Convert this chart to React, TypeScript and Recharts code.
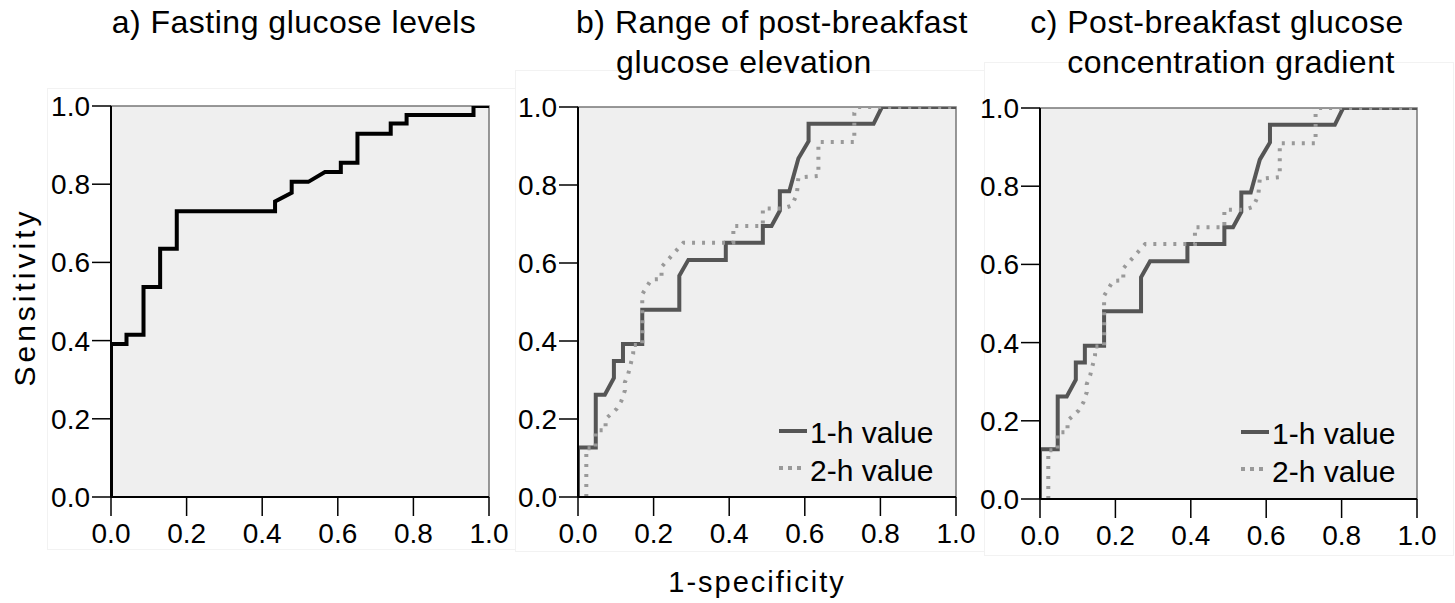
import React from 'react';
import { LineChart, Line, XAxis, YAxis, CartesianGrid, ReferenceArea } from 'recharts';

const FONT = '"Liberation Sans", Arial, sans-serif';

const axisTicks = [0, 0.2, 0.4, 0.6, 0.8, 1.0];

// a) fasting glucose ROC
const fastingFpr = [0, 0, 0.041, 0.041, 0.086, 0.086, 0.13, 0.13, 0.174, 0.174, 0.434, 0.434, 0.478, 0.478, 0.522, 0.566, 0.608, 0.608, 0.652, 0.652, 0.74, 0.74, 0.782, 0.782, 0.959, 0.959, 1];
const fastingTpr = [0, 0.391, 0.391, 0.415, 0.415, 0.537, 0.537, 0.635, 0.635, 0.731, 0.731, 0.756, 0.778, 0.806, 0.806, 0.831, 0.831, 0.855, 0.855, 0.929, 0.929, 0.955, 0.955, 0.977, 0.977, 1, 1];

// b) / c) 1-h value
const oneHourFpr = [0, 0, 0.047, 0.047, 0.071, 0.095, 0.095, 0.119, 0.119, 0.17, 0.17, 0.268, 0.268, 0.292, 0.391, 0.391, 0.489, 0.489, 0.512, 0.534, 0.534, 0.559, 0.583, 0.61, 0.61, 0.782, 0.804, 1];
const oneHourTpr = [0, 0.127, 0.127, 0.262, 0.262, 0.305, 0.349, 0.349, 0.392, 0.392, 0.48, 0.48, 0.567, 0.608, 0.608, 0.652, 0.652, 0.695, 0.695, 0.734, 0.784, 0.784, 0.868, 0.912, 0.957, 0.957, 1, 1];

// b) / c) 2-h value
const twoHourFpr = [0.022, 0.022, 0.047, 0.047, 0.073, 0.073, 0.102, 0.115, 0.124, 0.124, 0.133, 0.146, 0.146, 0.17, 0.17, 0.194, 0.221, 0.221, 0.279, 0.411, 0.411, 0.489, 0.489, 0.543, 0.565, 0.579, 0.583, 0.636, 0.636, 0.731, 0.731, 0.74, 1];
const twoHourTpr = [0, 0.125, 0.125, 0.171, 0.171, 0.2, 0.226, 0.247, 0.273, 0.294, 0.316, 0.367, 0.39, 0.39, 0.52, 0.558, 0.559, 0.59, 0.652, 0.652, 0.695, 0.695, 0.74, 0.74, 0.747, 0.776, 0.819, 0.823, 0.91, 0.91, 0.985, 1, 1];

const zip = (xs: number[], ys: number[]) => xs.map((x, i) => ({ x, y: ys[i] }));

type Series = { name: string; points: { x: number; y: number }[]; color: string; dash?: string };

function RocChart({ left, width, plotLeft, plotRight, plotTop, plotBottom, series }: {
  left: number; width: number; plotLeft: number; plotRight: number; plotTop: number; plotBottom: number; series: Series[];
}) {
  const height = 560;
  const xAxisHeight = 50;
  return (
    <div style={{ position: 'absolute', left, top: 0 }}>
      <LineChart
        width={width}
        height={height}
        margin={{ top: plotTop, right: left + width - plotRight, left: 0, bottom: height - plotBottom - xAxisHeight }}
      >
        <CartesianGrid horizontal={false} vertical={false} fill="#efefef" />
        <ReferenceArea x1={0} x2={1} y1={0} y2={1} fill="none" stroke="#777" strokeWidth={1.5} />
        <XAxis
          type="number"
          dataKey="x"
          domain={[0, 1]}
          ticks={axisTicks}
          allowDataOverflow
          height={xAxisHeight}
          tickSize={19}
          tickMargin={7}
          tickFormatter={(v: number) => v.toFixed(1)}
          axisLine={{ stroke: '#000', strokeWidth: 2 }}
          tickLine={{ stroke: '#000', strokeWidth: 1.5 }}
          tick={{ fill: '#000', fontSize: 28, fontFamily: FONT }}
        />
        <YAxis
          type="number"
          dataKey="y"
          domain={[0, 1]}
          ticks={axisTicks}
          allowDataOverflow
          width={plotLeft - left}
          tickSize={19}
          tickMargin={2}
          tickFormatter={(v: number) => v.toFixed(1)}
          axisLine={{ stroke: '#000', strokeWidth: 2 }}
          tickLine={{ stroke: '#000', strokeWidth: 1.5 }}
          tick={{ fill: '#000', fontSize: 28, fontFamily: FONT }}
        />
        {series.map((s) => (
          <Line
            key={s.name}
            data={s.points}
            dataKey="y"
            type="linear"
            stroke={s.color}
            strokeWidth={4}
            strokeDasharray={s.dash}
            strokeLinejoin="miter"
            dot={false}
            activeDot={false}
            isAnimationActive={false}
          />
        ))}
      </LineChart>
    </div>
  );
}

function LegendBox({ x, y }: { x: number; y: number }) {
  return (
    <g fontFamily={FONT} fontSize={30} fill="#000">
      <line x1={x} x2={x + 28} y1={y} y2={y} stroke="#555" strokeWidth={4} />
      <text x={x + 31} y={y + 12}>1-h value</text>
      <line x1={x} x2={x + 24} y1={y + 37} y2={y + 37} stroke="#999" strokeWidth={4} strokeDasharray="4 5" />
      <text x={x + 31} y={y + 50}>2-h value</text>
    </g>
  );
}

export default function App() {
  const fasting: Series[] = [{ name: 'fasting', points: zip(fastingFpr, fastingTpr), color: '#000' }];
  const postBreakfast: Series[] = [
    { name: '1-h value', points: zip(oneHourFpr, oneHourTpr), color: '#555' },
    { name: '2-h value', points: zip(twoHourFpr, twoHourTpr), color: '#999', dash: '3 7' },
  ];
  const card = { position: 'absolute' as const, border: '1px solid #f2f2f2', background: '#fff' };

  return (
    <div style={{ position: 'absolute', left: 0, top: 0, width: 1455, height: 603, background: '#fff', overflow: 'hidden' }}>
      <div style={{ ...card, left: 47, top: 88, width: 470, height: 460 }} />
      <div style={{ ...card, left: 515, top: 70, width: 470, height: 480 }} />
      <div style={{ ...card, left: 984, top: 62, width: 468, height: 492 }} />

      <RocChart left={0} width={520} plotLeft={111} plotRight={489} plotTop={106} plotBottom={497} series={fasting} />
      <RocChart left={500} width={490} plotLeft={578} plotRight={956} plotTop={107} plotBottom={497} series={postBreakfast} />
      <RocChart left={965} width={490} plotLeft={1040} plotRight={1417} plotTop={108} plotBottom={499} series={postBreakfast} />

      <svg width={1455} height={603} style={{ position: 'absolute', left: 0, top: 0, pointerEvents: 'none' }}>
        <g fontFamily={FONT} fontSize={32} fill="#000" textAnchor="middle" letterSpacing={0.5}>
          <text x={294} y={33}>a) Fasting glucose levels</text>
          <text x={772} y={33}>b) Range of post-breakfast</text>
          <text x={744} y={73}>glucose elevation</text>
          <text x={1217} y={33}>c) Post-breakfast glucose</text>
          <text x={1231} y={73}>concentration gradient</text>
        </g>
        <text x={35} y={297} transform="rotate(-90 35 297)" textAnchor="middle" fontFamily={FONT} fontSize={30} letterSpacing={4}>Sensitivity</text>
        <text x={757} y={592} textAnchor="middle" fontFamily={FONT} fontSize={29} letterSpacing={2}>1-specificity</text>
        <LegendBox x={779} y={431} />
        <LegendBox x={1241} y={432} />
      </svg>
    </div>
  );
}
